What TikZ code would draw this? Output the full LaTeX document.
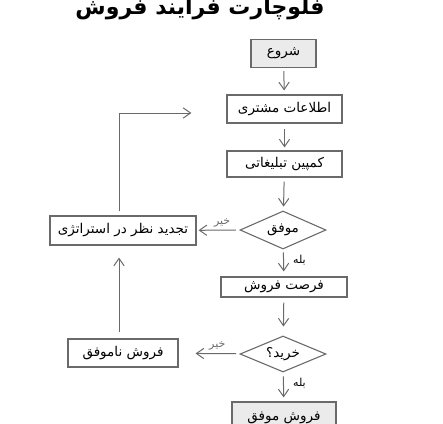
\documentclass[tikz,border=0pt]{standalone}
\usepackage{fontspec}
\newfontfamily\farsi[Script=Arabic]{DejaVu Sans}
\TeXXeTstate=1
\usetikzlibrary{arrows.meta,positioning,shapes.geometric}
\definecolor{edge}{HTML}{6A6A6A}
\definecolor{softgray}{HTML}{EBEBEB}
\newcommand{\fatext}[1]{\beginR #1\endR}

\begin{document}
\begin{tikzpicture}[x=1pt,y=-1pt,
  box/.style={draw=edge,line width=1.1pt,minimum height=28pt,align=center,
              font=\farsi\fontsize{13.5}{15}\selectfont,inner sep=2pt},
  term/.style={box,fill=softgray},
  decision/.style={diamond,draw=edge,line width=1.1pt,aspect=2.3,inner sep=0pt,
                   minimum width=86pt,minimum height=38pt,
                   font=\farsi\fontsize{13.5}{15}\selectfont},
  arr/.style={-{Straight Barb[length=2.6mm,width=3.6mm]},line width=1pt,edge},
  lbl/.style={font=\farsi\fontsize{11}{12}\selectfont,inner sep=1pt}
]
\clip (0,0) rectangle (443,423);
\node[anchor=base,font=\farsi\bfseries\fontsize{22}{24}\selectfont] (title)
  at (200,14) {\fatext{فلوچارت فرایند فروش}};
\node[term,minimum width=65pt] (start) at (283.5,53.5) {\fatext{شروع}};
\node[box,minimum width=115pt] (info) at (284.5,109) {\fatext{اطلاعات مشتری}};
\node[box,minimum width=115pt,minimum height=26pt] (campaign) at (284.5,164) {\fatext{کمپین تبلیغاتی}};
\node[decision] (success) at (283,230) {\fatext{موفق}};
\node[box,minimum width=146pt,minimum height=29pt] (revise) at (123,230.5) {\fatext{تجدید نظر در استراتژی}};
\node[box,minimum width=126pt,minimum height=20pt] (chance) at (284,287) {\fatext{فرصت فروش}};
\node[decision,minimum height=36pt] (buy) at (283,354) {\fatext{خرید؟}};
\node[box,minimum width=110pt] (fail) at (123,353) {\fatext{فروش ناموفق}};
\node[term,minimum width=104pt,minimum height=32pt] (win) at (284,418) {\fatext{فروش موفق}};
% main flow
\draw[arr,shorten <=3pt,shorten >=4pt] (start) -- (info);
\draw[arr,shorten <=5pt,shorten >=3pt] (info) -- (campaign);
\draw[arr,shorten <=4pt,shorten >=4pt] (campaign) -- (success);
\draw[arr,shorten <=3pt,shorten >=5pt] (success) -- (chance);
\draw[arr,shorten <=5pt,shorten >=9pt] (chance) -- (buy);
\draw[arr,shorten <=4pt,shorten >=4pt] (buy) -- (win);
% no branches
\draw[arr,shorten <=4pt,shorten >=2pt] (success) -- node[lbl,above=2pt,xshift=4pt] {\fatext{خیر}} (revise);
\draw[arr,shorten <=4pt,shorten >=17pt] (buy) -- node[lbl,above=2pt,xshift=8pt] {\fatext{خیر}} (fail);
\node[lbl,anchor=west] at (292,260) {\fatext{بله}};
\node[lbl,anchor=west] at (292,383) {\fatext{بله}};
% loop back
\draw[arr,shorten <=6pt,shorten >=12pt] ([xshift=-4pt]fail.north) -- ([xshift=-4pt]revise.south);
\draw[arr,shorten <=4pt,shorten >=35pt] ([xshift=-4pt]revise.north) |- ([yshift=-4pt]info.west);
\end{tikzpicture}
\end{document}
